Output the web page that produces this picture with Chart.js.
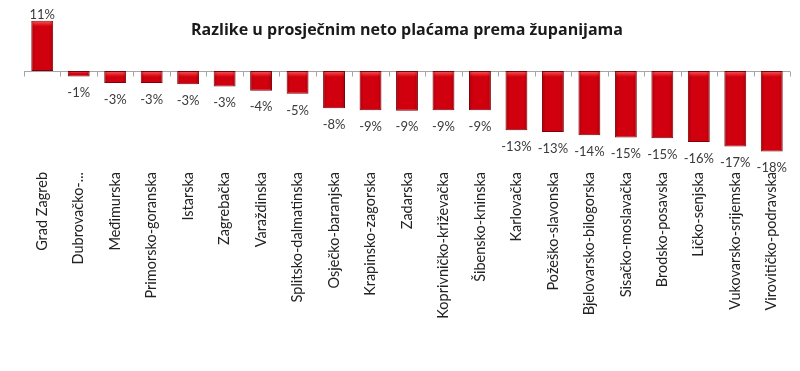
<!DOCTYPE html>
<html>
<head>
<meta charset="utf-8">
<script src="https://cdn.jsdelivr.net/npm/chart.js@4.4.0/dist/chart.umd.min.js"></script>
<style>
  html, body { margin: 0; padding: 0; background: #fff; }
  #wrap { width: 800px; height: 371px; position: relative; }
</style>
</head>
<body>
<div id="wrap"><canvas id="myChart"></canvas></div>
<script>
// --- Data ---
const chartTitle = 'Razlike u prosječnim neto plaćama prema županijama';
const counties = [
  'Grad Zagreb', 'Dubrovačko-...', 'Međimurska', 'Primorsko-goranska', 'Istarska',
  'Zagrebačka', 'Varaždinska', 'Splitsko-dalmatinska', 'Osječko-baranjska',
  'Krapinsko-zagorska', 'Zadarska', 'Koprivničko-križevačka', 'Šibensko-kninska',
  'Karlovačka', 'Požeško-slavonska', 'Bjelovarsko-bilogorska', 'Sisačko-moslavačka',
  'Brodsko-posavska', 'Ličko-senjska', 'Vukovarsko-srijemska', 'Virovitičko-podravska'
];
const wageDiff = [
  11.1, -1.2, -2.6, -2.6, -2.9, -3.4, -4.3, -5.0, -8.2, -8.6, -8.7,
  -8.6, -8.6, -13.0, -13.4, -14.1, -14.6, -14.8, -15.6, -16.6, -17.7
];

const labelFont = "'Lato', 'Open Sans', sans-serif";

// --- Zero line with small ticks between categories (Excel style) ---
const zeroAxisPlugin = {
  id: 'zeroAxis',
  beforeDatasetsDraw(chart) {
    const { ctx, chartArea, scales } = chart;
    const y0 = Math.round(scales.y.getPixelForValue(0)) + 0.5;
    const step = (chartArea.right - chartArea.left) / counties.length;
    ctx.save();
    ctx.strokeStyle = '#a6a6a6';
    ctx.lineWidth = 1;
    ctx.beginPath();
    ctx.moveTo(chartArea.left, y0);
    ctx.lineTo(chartArea.right, y0);
    for (let i = 0; i <= counties.length; i++) {
      const x = Math.round(chartArea.left + i * step) + 0.5;
      ctx.moveTo(x, y0);
      ctx.lineTo(x, y0 + 5);
    }
    ctx.stroke();
    ctx.restore();
  }
};

// --- Bevel look on the bars + value labels ---
const barDecorPlugin = {
  id: 'barDecor',
  afterDatasetsDraw(chart) {
    const { ctx } = chart;
    const meta = chart.getDatasetMeta(0);
    ctx.save();
    meta.data.forEach((bar, i) => {
      const left = bar.x - bar.width / 2;
      const top = Math.min(bar.y, bar.base);
      const h = Math.abs(bar.base - bar.y);
      // soft highlight at the top edge
      const hl = Math.min(6, h / 2);
      const g = ctx.createLinearGradient(0, top, 0, top + hl);
      g.addColorStop(0, 'rgba(255,120,120,0.9)');
      g.addColorStop(1, 'rgba(255,60,60,0)');
      ctx.fillStyle = g;
      ctx.fillRect(left + 1, top + 1, bar.width - 2, hl);
      // darker sides
      const s = ctx.createLinearGradient(left, 0, left + bar.width, 0);
      s.addColorStop(0, 'rgba(90,0,0,0.35)');
      s.addColorStop(0.18, 'rgba(90,0,0,0)');
      s.addColorStop(0.82, 'rgba(90,0,0,0)');
      s.addColorStop(1, 'rgba(90,0,0,0.35)');
      ctx.fillStyle = s;
      ctx.fillRect(left + 1, top + 1, bar.width - 2, h - 2);

      // value label
      const v = wageDiff[i];
      ctx.fillStyle = '#3a3a3a';
      ctx.font = '13px ' + labelFont;
      ctx.textAlign = 'center';
      if (v >= 0) {
        ctx.textBaseline = 'bottom';
        ctx.fillText(Math.round(v) + '%', bar.x, bar.y + 1);
      } else {
        ctx.textBaseline = 'top';
        ctx.fillText(Math.round(v) + '%', bar.x, bar.y + 10);
      }
    });
    ctx.restore();
  }
};

// --- Title drawn inside the plot, like the original ---
const titlePlugin = {
  id: 'insideTitle',
  afterDraw(chart) {
    const { ctx } = chart;
    ctx.save();
    ctx.fillStyle = '#1a1a1a';
    ctx.font = "bold 16px 'Open Sans', sans-serif";
    ctx.textAlign = 'center';
    ctx.textBaseline = 'middle';
    ctx.fillText(chartTitle, 407, 30);
    ctx.restore();
  }
};

const ctx = document.getElementById('myChart').getContext('2d');
const chart = new Chart(ctx, {
  type: 'bar',
  data: {
    labels: counties,
    datasets: [{
      data: wageDiff,
      backgroundColor: '#d1000e',
      borderColor: '#7d0008',
      borderWidth: 1,
      borderSkipped: false,
      categoryPercentage: 0.6,
      barPercentage: 1.0
    }]
  },
  options: {
    responsive: true,
    maintainAspectRatio: false,
    animation: false,
    layout: { padding: { left: 24, right: 10, top: 12, bottom: 0 } },
    scales: {
      y: {
        display: false,
        min: -20.66,
        max: 13
      },
      x: {
        grid: { display: false, drawTicks: false },
        border: { display: false },
        afterFit: (scale) => { scale.height = 206; },
        ticks: {
          autoSkip: false,
          maxRotation: 90,
          minRotation: 90,
          padding: 7,
          color: '#222',
          font: { size: 14.5, family: labelFont }
        }
      }
    },
    plugins: {
      legend: { display: false },
      tooltip: { enabled: false }
    }
  },
  plugins: [zeroAxisPlugin, barDecorPlugin, titlePlugin]
});
</script>
</body>
</html>
